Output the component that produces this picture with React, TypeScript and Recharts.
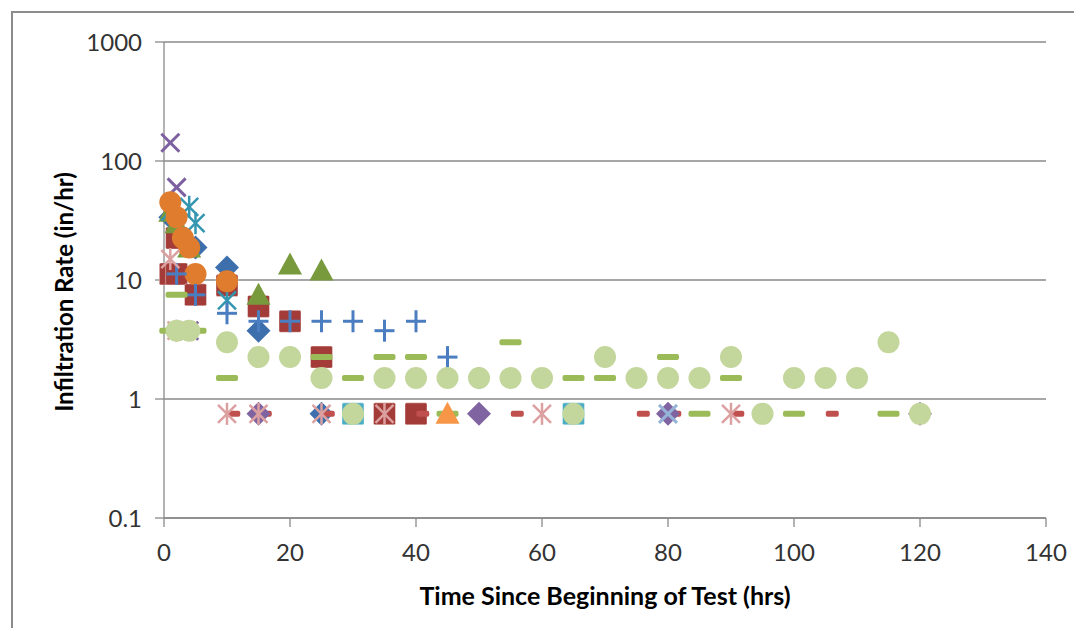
import React from "react";
import { CartesianGrid, Scatter, ScatterChart, XAxis, YAxis } from "recharts";

const xTicks = [0, 20, 40, 60, 80, 100, 120, 140];
const yTicks = [0.1, 1, 10, 100, 1000];

// points are [hours, in/hr]
const blueDiamond = [[1, 33.75], [5, 18.75], [10, 12.75], [15, 3.75], [25, 0.75]];
const redSquare = [[1, 11.25], [2, 11.25], [2, 22.5], [5, 7.5], [10, 9], [15, 6], [20, 4.5], [25, 2.25], [35, 0.75], [40, 0.75]];
const greenTriangle = [[1, 37.5], [2, 30], [4, 18.75], [15, 7.5], [20, 13.5], [25, 12]];
const purpleX = [[1, 142.5], [2, 60], [4, 3.75]];
const aquaStar = [[1, 37.5], [4, 41.25], [5, 30], [10, 6.75]];
const orangeCircle = [[1, 45], [2, 33.75], [3, 22.5], [4, 18.75], [5, 11.25], [10, 9.75]];
const bluePlus = [[2, 11.25], [5, 7.5], [10, 5.25], [15, 4.5], [20, 4.5], [25, 4.5], [30, 4.5], [35, 3.75], [40, 4.5], [45, 2.25], [50, 1.5]];
const redDash = [[11, 0.75], [16, 0.75], [26, 0.75], [41, 0.75], [56, 0.75], [76, 0.75], [81, 0.75], [91, 0.75], [106, 0.75]];
const greenDash = [[1, 3.75], [5, 3.75], [2, 7.5], [10, 1.5], [25, 2.25], [30, 1.5], [35, 2.25], [40, 2.25], [45, 0.75], [55, 3], [65, 1.5], [70, 1.5], [80, 2.25], [85, 0.75], [90, 1.5], [100, 0.75], [115, 0.75]];
const purpleDiamond = [[15, 0.75], [50, 0.75], [80, 0.75], [120, 0.75]];
const aquaSquare = [[30, 0.75], [65, 0.75]];
const orangeTriangle = [[45, 0.75]];
const lightBlueX = [[80, 0.75]];
const pinkStar = [[1, 15], [2, 3.75], [10, 0.75], [15, 0.75], [25, 0.75], [35, 0.75], [60, 0.75], [90, 0.75]];
const lightGreenCircle = [[2, 3.75], [4, 3.75], [10, 3], [15, 2.25], [20, 2.25], [25, 1.5], [30, 0.75], [35, 1.5], [40, 1.5], [45, 1.5], [50, 1.5], [55, 1.5], [60, 1.5], [65, 0.75], [70, 2.25], [75, 1.5], [80, 1.5], [85, 1.5], [90, 2.25], [95, 0.75], [100, 1.5], [105, 1.5], [110, 1.5], [115, 3], [120, 0.75]];

const series = [
  { name: "s1", pts: blueDiamond, kind: "diamond", color: "#3d6fad" },
  { name: "s2", pts: redSquare, kind: "square", color: "#a33c38" },
  { name: "s3", pts: greenTriangle, kind: "triangle", color: "#789a3d" },
  { name: "s4", pts: purpleX, kind: "x", color: "#7d60a0" },
  { name: "s5", pts: aquaStar, kind: "star", color: "#3396b0" },
  { name: "s6", pts: orangeCircle, kind: "circle", color: "#e07c2e" },
  { name: "s7", pts: bluePlus, kind: "plus", color: "#4a7ec0" },
  { name: "s8", pts: redDash, kind: "dash", color: "#c0504d" },
  { name: "s9", pts: greenDash, kind: "longdash", color: "#9bbb59" },
  { name: "s10", pts: purpleDiamond, kind: "diamond", color: "#8064a2" },
  { name: "s11", pts: aquaSquare, kind: "square", color: "#4bacc6" },
  { name: "s12", pts: orangeTriangle, kind: "triangle", color: "#f79646" },
  { name: "s13", pts: lightBlueX, kind: "x", color: "#95b3d7" },
  { name: "s14", pts: pinkStar, kind: "star", color: "#dca0a0" },
  { name: "s15", pts: lightGreenCircle, kind: "circle", color: "#c3d69b" },
];

function Marker({ kind, cx, cy, color }: any) {
  if (cx == null || cy == null) return null;
  switch (kind) {
    case "diamond":
      return <polygon points={`${cx},${cy - 12} ${cx + 12},${cy} ${cx},${cy + 12} ${cx - 12},${cy}`} fill={color} />;
    case "square":
      return <rect x={cx - 11} y={cy - 11} width={22} height={22} rx={1.5} fill={color} stroke="#ffffff" strokeOpacity={0.4} />;
    case "triangle":
      return <polygon points={`${cx},${cy - 12} ${cx + 12},${cy + 10} ${cx - 12},${cy + 10}`} fill={color} />;
    case "circle":
      return <circle cx={cx} cy={cy} r={11} fill={color} />;
    case "x":
      return (
        <g stroke={color} strokeWidth={3}>
          <line x1={cx - 9} y1={cy - 9} x2={cx + 9} y2={cy + 9} />
          <line x1={cx - 9} y1={cy + 9} x2={cx + 9} y2={cy - 9} />
        </g>
      );
    case "star":
      return (
        <g stroke={color} strokeWidth={2.5}>
          <line x1={cx - 9} y1={cy - 9} x2={cx + 9} y2={cy + 9} />
          <line x1={cx - 9} y1={cy + 9} x2={cx + 9} y2={cy - 9} />
          <line x1={cx} y1={cy - 11} x2={cx} y2={cy + 11} />
        </g>
      );
    case "plus":
      return (
        <g stroke={color} strokeWidth={3}>
          <line x1={cx - 10} y1={cy} x2={cx + 10} y2={cy} />
          <line x1={cx} y1={cy - 11} x2={cx} y2={cy + 11} />
        </g>
      );
    case "dash":
      return <rect x={cx - 6} y={cy - 3} width={13} height={6} rx={2} fill={color} />;
    case "longdash":
      return <rect x={cx - 11} y={cy - 3} width={22} height={6} rx={2} fill={color} />;
    default:
      return null;
  }
}

const tickStyle = { fill: "#333333", fontSize: 24, fontFamily: "Lato" };

export default function App() {
  return (
    <div style={{ position: "relative", width: 1074, height: 620, overflow: "hidden", background: "#fff" }}>
      <div
        style={{
          position: "absolute",
          left: 3,
          top: 3,
          width: 1100,
          height: 700,
          border: "2px solid #8c8c8c",
        }}
      />
      <ScatterChart width={1074} height={620} margin={{ top: 34, right: 36, left: 76, bottom: 80 }}>
        <CartesianGrid vertical={false} stroke="#8a8a8a" strokeWidth={1.3} />
        <XAxis
          type="number"
          dataKey="x"
          domain={[0, 140]}
          ticks={xTicks}
          height={30}
          tickSize={9}
          tickMargin={17}
          axisLine={{ stroke: "#8a8a8a", strokeWidth: 1.3 }}
          tickLine={{ stroke: "#8a8a8a", strokeWidth: 1.3 }}
          tick={tickStyle}
        />
        <YAxis
          type="number"
          dataKey="y"
          scale="log"
          domain={[0.1, 1000]}
          allowDataOverflow
          ticks={yTicks}
          width={80}
          tickSize={9}
          tickMargin={13}
          axisLine={{ stroke: "#8a8a8a", strokeWidth: 1.3 }}
          tickLine={{ stroke: "#8a8a8a", strokeWidth: 1.3 }}
          tick={tickStyle}
          tickFormatter={(v: number) => String(v)}
        />
        {series.map((s) => (
          <Scatter
            key={s.name}
            name={s.name}
            data={s.pts.map(([x, y]) => ({ x, y }))}
            isAnimationActive={false}
            shape={(p: any) => <Marker kind={s.kind} cx={p.cx} cy={p.cy} color={s.color} />}
          />
        ))}
      </ScatterChart>
      <div
        style={{
          position: "absolute",
          left: 55,
          top: 284,
          transform: "translate(-50%, -50%) rotate(-90deg)",
          whiteSpace: "nowrap",
          fontFamily: "Lato",
          fontWeight: 700,
          fontSize: 24,
          color: "#000",
        }}
      >
        Infiltration Rate (in/hr)
      </div>
      <div
        style={{
          position: "absolute",
          left: 597,
          top: 587,
          transform: "translate(-50%, -50%)",
          whiteSpace: "nowrap",
          fontFamily: "Lato",
          fontWeight: 700,
          fontSize: 25,
          color: "#000",
        }}
      >
        Time Since Beginning of Test (hrs)
      </div>
    </div>
  );
}
